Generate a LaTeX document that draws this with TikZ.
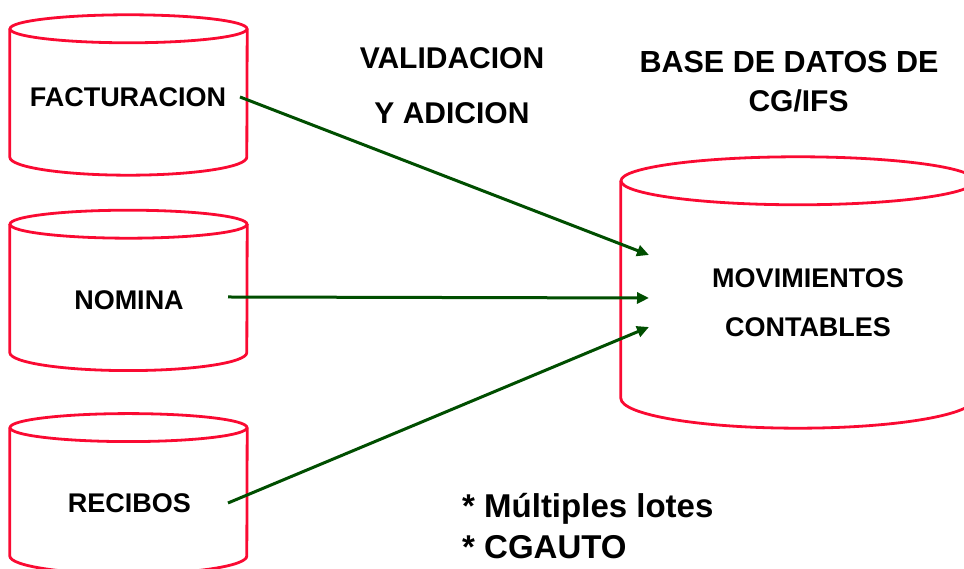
\documentclass[tikz,border=0pt]{standalone}
\usepackage{fontspec}
\setmainfont{Liberation Sans}
\usetikzlibrary{positioning,arrows.meta}
\definecolor{canred}{RGB}{250,10,50}
\definecolor{flowgreen}{RGB}{0,78,0}
% can outline round a node: node, x radius, top y radius, bottom y radius
\newcommand\drawcan[4]{%
	\draw[canline] ([yshift=-#3]#1.north) ellipse ({#2} and {#3});
	\draw[canline] ([yshift=-#3]#1.north west) -- ([yshift=#4]#1.south west)
		arc (180:360:{#2} and {#4}) -- ([yshift=-#3]#1.north east);
}
\begin{document}
\begin{tikzpicture}[x=1pt, y=1pt,
	store/.style={rectangle, minimum width=237pt, minimum height=160pt, inner sep=0pt},
	bigstore/.style={store, minimum width=354pt, minimum height=271pt},
	canline/.style={draw=canred, line width=2.8pt},
	tag/.style={font=\fontsize{27}{32}\selectfont\bfseries, inner sep=0pt, anchor=base},
	head/.style={font=\fontsize{30}{36}\selectfont\bfseries, inner sep=0pt, anchor=base},
	note/.style={font=\fontsize{33}{39}\selectfont\bfseries, inner sep=0pt, anchor=base west},
	flow/.style={draw=flowgreen, line width=3pt, -{Triangle[length=12pt, width=11pt]}}
	]
	\useasboundingbox (0,0) rectangle (964,569);
	% sources on the left
	\node[store] (fact) at (128.5,474) {};
	\node[store] (nomina) [below=35pt of fact] {};
	\node[store] (recibos) [below=43pt of nomina] {};
	\drawcan{fact}{118.5pt}{14pt}{18pt}
	\drawcan{nomina}{118.5pt}{14pt}{18pt}
	\drawcan{recibos}{118.5pt}{14pt}{18pt}
	\node[tag] (factlabel) at (128,462) {FACTURACION};
	\node[tag] (nominalabel) at (129,259) {NOMINA};
	\node[tag] (reciboslabel) at (129.5,56) {RECIBOS};
	% target database
	\node[bigstore] (movs) at (798,276.5) {};
	\drawcan{movs}{177pt}{24pt}{30pt}
	\node[tag] (movsone) at (808,281) {MOVIMIENTOS};
	\node[tag] (movstwo) at (808,232) {CONTABLES};
	% titles
	\node[head] (valid) at (452,500) {VALIDACION};
	\node[head] (adic) at (452,445) {Y ADICION};
	\node[head, font=\fontsize{30.5}{36}\selectfont\bfseries] (baseone) at (789,496) {BASE DE DATOS DE};
	\node[head] (basetwo) at (798.5,457) {CG/IFS};
	\node[note] (lotes) at (462,51) {* Múltiples lotes};
	\node[note] (cgauto) at (462,10) {* CGAUTO};
	% flows
	\coordinate (factout) at (240,472);
	\coordinate (nominaout) at (228,272);
	\coordinate (recibosout) at (228,66);
	\coordinate (movsina) at (649,314);
	\coordinate (movsinb) at (649,271);
	\coordinate (movsinc) at (649,242);
	\draw[flow] (factout) -- (movsina);
	\draw[flow] (nominaout) -- (movsinb);
	\draw[flow] (recibosout) -- (movsinc);
\end{tikzpicture}
\end{document}
